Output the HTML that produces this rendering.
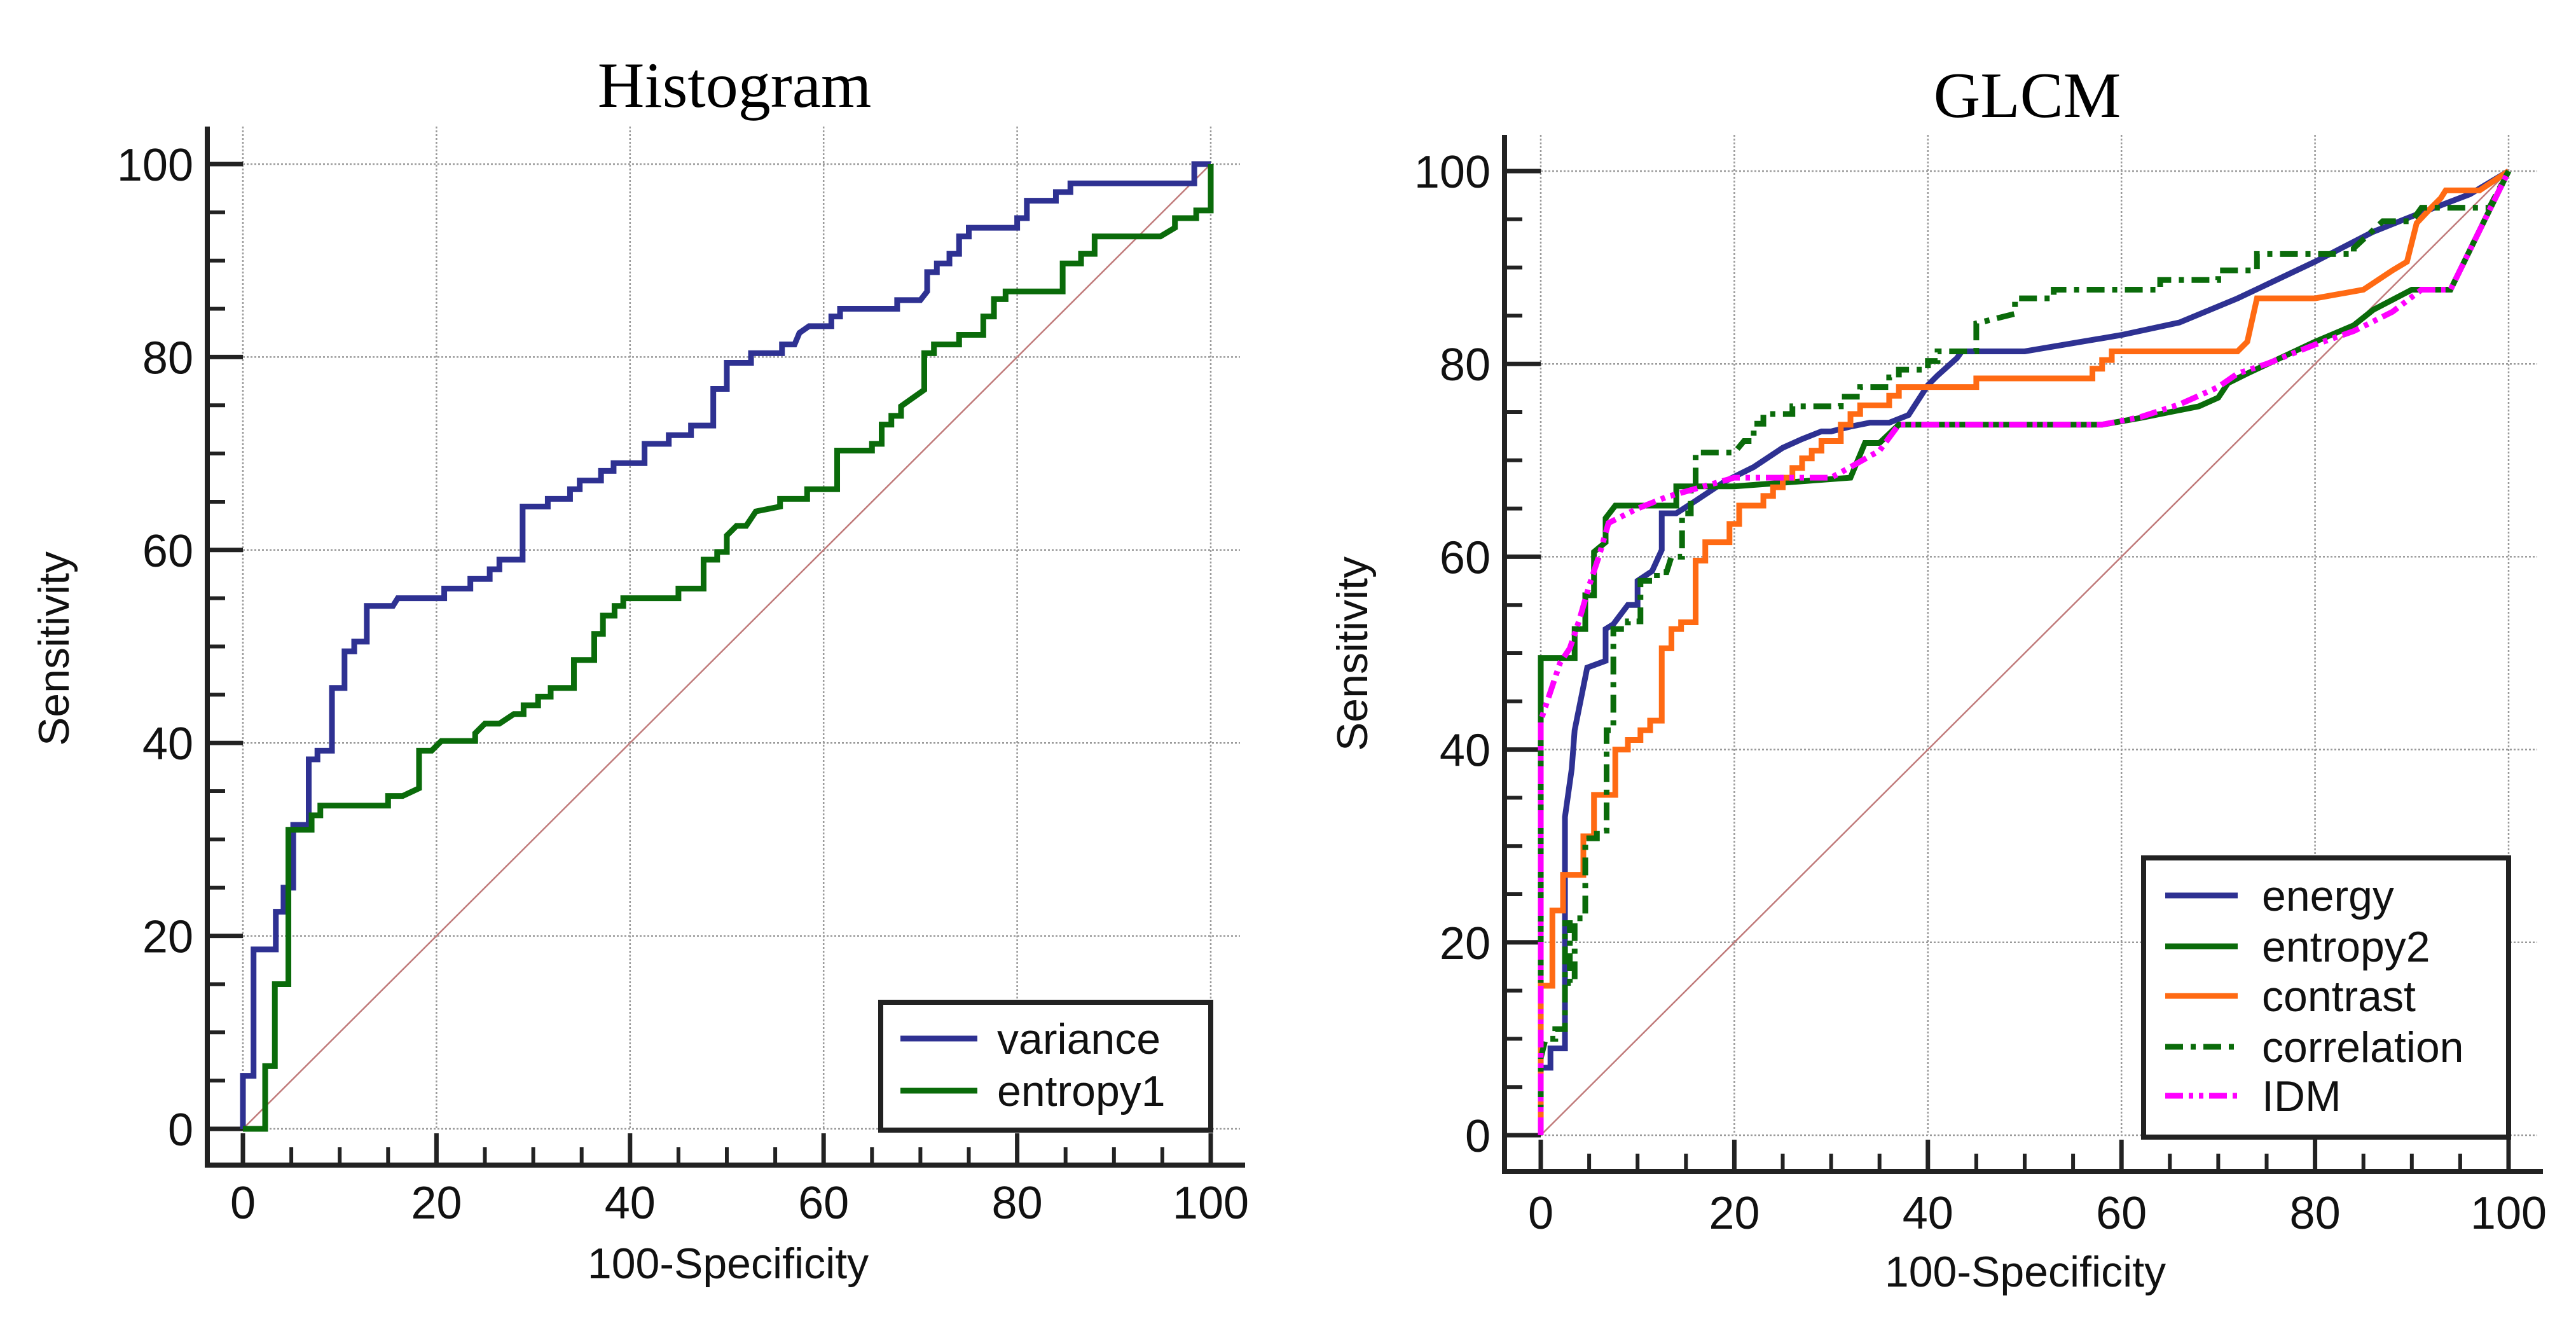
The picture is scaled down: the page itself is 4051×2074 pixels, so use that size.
<!DOCTYPE html>
<html><head><meta charset="utf-8"><style>
html,body{margin:0;padding:0;background:#fff;}
svg{display:block;}
</style></head><body>
<svg id="root" width="4051" height="2074" viewBox="0 0 4051 2074" xmlns="http://www.w3.org/2000/svg">
<rect width="4051" height="2074" fill="#fff"/>
</svg>
<script>
const tickValues = [0, 20, 40, 60, 80, 100];
const minorTickValues = [5, 10, 15, 25, 30, 35, 45, 50, 55, 65, 70, 75, 85, 90, 95];
const histSeriesNames = ["variance", "entropy1"];
const glcmSeriesNames = ["energy", "entropy2", "contrast", "correlation", "IDM"];
const variance = [[0,0],[0,5.5],[1.1,5.5],[1.1,18.6],[3.4,18.6],[3.4,22.5],[4.2,22.5],[4.2,25],[5.2,25],[5.2,31.5],[6.8,31.5],[6.8,38.3],[7.7,38.3],[7.7,39.2],[9.2,39.2],[9.2,45.7],[10.5,45.7],[10.5,49.5],[11.5,49.5],[11.5,50.5],[12.8,50.5],[12.8,54.2],[15.5,54.2],[16,55],[20.8,55],[20.8,56],[23.5,56],[23.5,57],[25.5,57],[25.5,58],[26.5,58],[26.5,59],[28.9,59],[28.9,64.5],[31.5,64.5],[31.5,65.3],[33.8,65.3],[33.8,66.3],[34.8,66.3],[34.8,67.2],[37,67.2],[37,68.2],[38.3,68.2],[38.3,69],[41.5,69],[41.5,71],[44,71],[44,71.9],[46.3,71.9],[46.3,72.9],[48.6,72.9],[48.6,76.7],[50,76.7],[50,79.4],[52.5,79.4],[52.5,80.4],[55.7,80.4],[55.7,81.3],[57,81.3],[57.5,82.5],[58.5,83.2],[60.8,83.2],[60.8,84.2],[61.7,84.2],[61.7,85],[67.6,85],[67.6,85.9],[70,85.9],[70.7,86.8],[70.7,88.8],[71.7,88.8],[71.7,89.7],[73,89.7],[73,90.7],[74,90.7],[74,92.5],[75,92.5],[75,93.4],[80,93.4],[80,94.4],[81,94.4],[81,96.2],[84,96.2],[84,97.1],[85.5,97.1],[85.5,98],[98.3,98],[98.3,100],[100,100]];
const entropy1 = [[0,0],[2.3,0],[2.3,6.5],[3.3,6.5],[3.3,15],[4.7,15],[4.7,31],[7.1,31],[7.1,32.5],[8,32.5],[8,33.5],[15,33.5],[15,34.5],[16.5,34.5],[18.2,35.3],[18.2,39.2],[19.5,39.2],[20.5,40.2],[24,40.2],[24,41],[25,42],[26.5,42],[28,43],[29,43],[29,43.9],[30.5,43.9],[30.5,44.8],[31.8,44.8],[31.8,45.7],[34.2,45.7],[34.2,48.6],[36.3,48.6],[36.3,51.3],[37.2,51.3],[37.2,53.2],[38.4,53.2],[38.4,54.2],[39.3,54.2],[39.3,55],[45,55],[45,56],[47.6,56],[47.6,59],[49,59],[49,59.8],[50,59.8],[50,61.5],[51,62.5],[52,62.5],[53,64],[55.5,64.5],[55.5,65.3],[58.3,65.3],[58.3,66.3],[61.4,66.3],[61.4,70.3],[65,70.3],[65,71],[66,71],[66,73],[67,73],[67,73.9],[68,73.9],[68,74.9],[70.4,76.6],[70.4,80.4],[71.4,80.4],[71.4,81.3],[74,81.3],[74,82.3],[76.5,82.3],[76.5,84.2],[77.6,84.2],[77.6,86],[78.8,86],[78.8,86.8],[84.7,86.8],[84.7,89.7],[86.6,89.7],[86.6,90.7],[88,90.7],[88,92.5],[94.8,92.5],[96.3,93.4],[96.3,94.4],[98.5,94.4],[98.5,95.2],[100,95.2],[100,100]];
const energy = [[0,0],[0,7],[1,7],[1,9],[2.5,9],[2.5,33],[3.2,38],[3.5,42],[4.8,48.5],[6.7,49.2],[6.7,52.5],[7.5,53],[9,55],[10,55],[10,57.5],[11.5,58.5],[12.5,60.7],[12.5,64.5],[14,64.5],[16,65.8],[19,67.8],[20,68.3],[22,69.3],[25,71.3],[27,72.2],[29,73],[30,73],[32,73.5],[34,73.9],[36,73.9],[38,74.7],[40,77.8],[41,78.8],[43,80.6],[43.5,81.3],[50,81.3],[60,83],[66,84.3],[72,86.8],[80,90.6],[86,93.7],[90,95.3],[96,97.6],[100,100]];
const entropy2 = [[0,0],[0,49.5],[3.5,49.5],[3.5,52.5],[4.6,52.5],[4.6,56],[5.5,56],[5.5,60.5],[6.7,61.5],[6.7,64],[7.7,65.3],[11.5,65.3],[14,65.3],[14,67.3],[20,67.3],[32,68.2],[33.5,71.8],[35,71.8],[37,73.7],[58,73.7],[62,74.4],[68,75.6],[70,76.5],[71,78],[73,79],[80,82.3],[84,84],[86,85.6],[90,87.7],[94,87.7],[100,100]];
const contrast = [[0,0],[0,15.5],[1.2,15.5],[1.2,23.3],[2.3,23.3],[2.3,27],[4.4,27],[4.4,31],[5.5,31],[5.5,35.3],[7.7,35.3],[7.7,40],[9,40],[9,41],[10.3,41],[10.3,42],[11.3,42],[11.3,43],[12.5,43],[12.5,50.5],[13.5,50.5],[13.5,52.5],[14.5,52.5],[14.5,53.2],[16,53.2],[16,59.6],[17,59.6],[17,61.5],[19.5,61.5],[19.5,63.4],[20.5,63.4],[20.5,65.3],[23,65.3],[23,66.3],[24,66.3],[24,67.2],[25,67.2],[25,68.2],[26,68.2],[26,69.2],[27,69.2],[27,70.2],[28,70.2],[28,71],[29,71],[29,72],[31,72],[31,73.7],[32,73.7],[32,74.8],[33,74.8],[33,75.7],[36,75.7],[36,76.7],[37,76.7],[37,77.6],[45,77.6],[45,78.5],[57,78.5],[57,79.5],[58,79.5],[58,80.4],[59,80.4],[59,81.3],[72,81.3],[73,82.3],[74,86.8],[80,86.8],[85,87.7],[88,89.7],[89.5,90.6],[90.5,94.6],[92,96.2],[93,97.2],[93.5,98],[97,98],[100,100]];
const correlation = [[0,0],[0,8],[0.5,10],[1.5,10],[1.5,11],[2.5,11],[2.5,22],[3,22],[3,15.8],[3.5,15.8],[3.5,22.5],[4.6,22.5],[4.6,30.8],[5.8,30.8],[5.8,31.6],[6.8,31.6],[6.8,42],[7.5,42],[7.5,52.5],[9,52.5],[9,53.3],[10.3,53.3],[10.3,57.5],[12,57.5],[12,58.4],[13,58.4],[13.5,60],[14.6,60],[14.6,64.5],[15.5,64.5],[15.5,67.3],[16,67.3],[16,70.8],[20,70.8],[21,72],[22,72],[22,73.8],[23,73.8],[23,74.8],[26,74.8],[26,75.6],[31,75.6],[31,76.6],[33,76.6],[33,77.6],[36,77.6],[36,78.6],[37,78.6],[37,79.4],[40,79.4],[40,80.3],[41,80.3],[41,81.3],[45,81.3],[45,84.2],[49,85.2],[49,86.8],[53,86.8],[53,87.7],[64,87.7],[64,88.7],[70,88.7],[70,89.7],[74,89.7],[74,91.4],[84,91.4],[84,92],[87,94.8],[90,94.8],[91,96.2],[98,96.2],[100,100]];
const idm = [[0,0],[0,43],[1,46],[2,49],[3,50.5],[4,53.5],[5,57],[6,60],[7,63.5],[8,64],[10,65],[13,66.2],[20,68.2],[30,68.2],[32,69.3],[35,71],[37,73.7],[58,73.7],[62,74.5],[66,75.8],[70,77.6],[72,79],[75,80],[80,82],[84,83.4],[88,85.4],[91,87.7],[94,87.7],[100,100]];

const NS = "http://www.w3.org/2000/svg";
const root = document.getElementById('root');
function mk(tag, attrs, parent){
  const e = document.createElementNS(NS, tag);
  for (const k in attrs) e.setAttribute(k, attrs[k]);
  (parent||root).appendChild(e);
  return e;
}
function drawChart(cfg){
  const g = mk('g', {});
  
  
  const sx = v => cfg.x0 + (cfg.x100 - cfg.x0) * v / 100;
  const sy = v => cfg.y0 + (cfg.y100 - cfg.y0) * v / 100;
  tickValues.forEach(v => {
    const gv = mk('line', {x1:sx(v), x2:sx(v), y1:cfg.axTop, y2:sy(0), stroke:'#9a9a9a', 'stroke-width':2.5, 'stroke-dasharray':'3 3'}, g);
    
    
    const gh = mk('line', {x1:sx(0), x2:cfg.gridRight, y1:sy(v), y2:sy(v), stroke:'#9a9a9a', 'stroke-width':2.5, 'stroke-dasharray':'3 3'}, g);
    
    
  });
  const d = mk('line', {x1:sx(0), y1:sy(0), x2:sx(100), y2:sy(100), stroke:'#c07a7a', 'stroke-width':2.5}, g);
  
  
  const ax = mk('path', {d:`M${cfg.axLeft},${cfg.axTop} V${cfg.axBottom} H${cfg.axRight}`, fill:'none', stroke:'#222', 'stroke-width':8}, g);
  
  
  tickValues.forEach(v => {
    const t1 = mk('line', {x1:cfg.axLeft, x2:sx(0), y1:sy(v), y2:sy(v), stroke:'#222', 'stroke-width':7}, g);
    
    
    const t2 = mk('line', {x1:sx(v), x2:sx(v), y1:cfg.axBottom, y2:cfg.axBottom-50, stroke:'#222', 'stroke-width':7}, g);
    
    
    const yl = mk('text', {x:cfg.axLeft-22, y:sy(v)+26, 'text-anchor':'end', 'font-size':72, fill:'#111', 'font-family':'Liberation Sans, sans-serif'}, g);
    yl.textContent = v;
    
    
    const xl = mk('text', {x:sx(v), y:cfg.xLabelY, 'text-anchor':'middle', 'font-size':72, fill:'#111', 'font-family':'Liberation Sans, sans-serif'}, g);
    xl.textContent = v;
    
    
  });
  minorTickValues.forEach(v => {
    const t1 = mk('line', {x1:cfg.axLeft, x2:cfg.axLeft+28, y1:sy(v), y2:sy(v), stroke:'#222', 'stroke-width':6}, g);
    
    
    const t2 = mk('line', {x1:sx(v), x2:sx(v), y1:cfg.axBottom, y2:cfg.axBottom-28, stroke:'#222', 'stroke-width':6}, g);
    
    
  });
  cfg.series.forEach(s => {
    const p = mk('polyline', {points:s.data.map(q => sx(q[0])+','+sy(q[1])).join(' '), fill:'none', stroke:s.color, 'stroke-width':9, 'stroke-linejoin':'miter', 'stroke-dasharray':s.dash||'none'}, g);
    
    
  });
  const tt = mk('text', {x:cfg.titleX, y:cfg.titleY, 'text-anchor':'middle', 'font-size':102, fill:'#000', 'font-family':'Liberation Serif, serif'}, g);
  tt.textContent = cfg.title;
  
  
  const xt = mk('text', {x:cfg.xTitleX, y:cfg.xTitleY, 'text-anchor':'middle', 'font-size':68, fill:'#111', 'font-family':'Liberation Sans, sans-serif'}, g);
  xt.textContent = '100-Specificity';
  
  
  const yt = mk('text', {x:0, y:0, transform:`translate(${cfg.yTitleX},${cfg.yTitleY}) rotate(-90)`, 'text-anchor':'middle', 'font-size':68, fill:'#111', 'font-family':'Liberation Sans, sans-serif'}, g);
  yt.textContent = 'Sensitivity';
  
  
  const L = cfg.legend;
  const lg = mk('g', {}, g);
  
  
  const lb = mk('rect', {x:L.x1, y:L.y1, width:L.x2-L.x1, height:L.y2-L.y1, fill:'#fff', stroke:'#222', 'stroke-width':8}, lg);
  
  
  cfg.series.forEach((s, i) => {
    const y = L.rows[i];
    const ll = mk('line', {x1:L.lx1, x2:L.lx2, y1:y, y2:y, stroke:s.color, 'stroke-width':9, 'stroke-dasharray':s.dash||'none'}, lg);
    
    
    const lt = mk('text', {x:L.tx, y:y+24, 'font-size':68, fill:'#111', 'font-family':'Liberation Sans, sans-serif'}, lg);
    lt.textContent = s.name;
    
    
  });
}
drawChart({name:'histogram-chart', title:'Histogram', x0:382, x100:1904, y0:1775, y100:258,
  axLeft:326, axBottom:1832, axTop:199, axRight:1958, gridRight:1950,
  xLabelY:1916, xTitleX:1145, xTitleY:2010, titleX:1155, titleY:168, yTitleX:108, yTitleY:1020,
  series:[{name:histSeriesNames[0], data:variance, color:'#2e3192'},{name:histSeriesNames[1], data:entropy1, color:'#0a6b0a'}],
  legend:{x1:1385, y1:1576, x2:1904, y2:1777, lx1:1416, lx2:1537, tx:1568, rows:[1633,1715]}});
drawChart({name:'glcm-chart', title:'GLCM', x0:2423, x100:3945, y0:1785, y100:269,
  axLeft:2366, axBottom:1842, axTop:212, axRight:3999, gridRight:3990,
  xLabelY:1932, xTitleX:3185, xTitleY:2023, titleX:3188, titleY:184, yTitleX:2150, yTitleY:1028,
  series:[{name:glcmSeriesNames[0], data:energy, color:'#2e3192'},{name:glcmSeriesNames[1], data:entropy2, color:'#0a6b0a'},{name:glcmSeriesNames[2], data:contrast, color:'#ff6a13'},{name:glcmSeriesNames[3], data:correlation, color:'#0a6b0a', dash:'28 12 8 12'},{name:glcmSeriesNames[4], data:idm, color:'#ff00ff', dash:'28 9 7 9 7 9'}],
  legend:{x1:3371, y1:1349, x2:3945, y2:1788, lx1:3405, lx2:3519, tx:3557, rows:[1408,1488,1566,1646,1723]}});
</script>
</body></html>
